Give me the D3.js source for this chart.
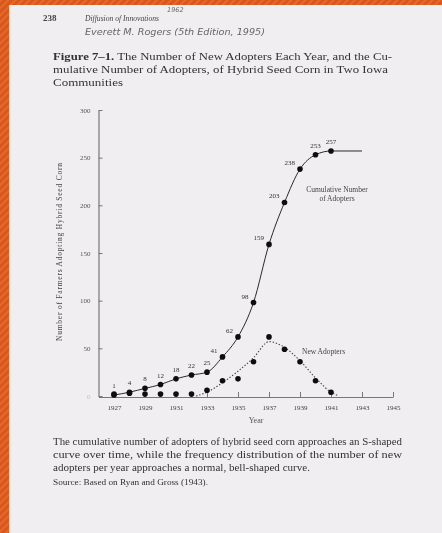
<!DOCTYPE html>
<html>
<head>
<meta charset="utf-8">
<script src="https://cdn.jsdelivr.net/npm/d3@7"></script>
<style>
  body { margin: 0; background: #f0eef0; }
  svg { display: block; }
</style>
</head>
<body>
<script>
// Rogers, fig 7-1 : hybrid seed corn in two Iowa communities

var years = [1927, 1928, 1929, 1930, 1931, 1932, 1933, 1934, 1935, 1936, 1937, 1938, 1939, 1940, 1941];
var cumulative = [1, 4, 8, 12, 18, 22, 25, 41, 62, 98, 159, 203, 238, 253, 257];
var newAdopters = [2, 3, 2, 2, 2, 2, 6, 16, 18, 36, 62, 49, 36, 16, 4];

// the dotted bell curve drawn by hand through the new adopters
var bellYears = [1932.3, 1933, 1934, 1935, 1936, 1937, 1938, 1939, 1940, 1941, 1941.5];
var bellValues = [0, 4, 14, 26, 40, 57, 51, 37, 19, 4, 0];

var plateauEnd = 1943;
var xTicks = [1927, 1929, 1931, 1933, 1935, 1937, 1939, 1941, 1943, 1945];
var yTicks = [0, 50, 100, 150, 200, 250, 300];

var W = 442, H = 533;
var serif = "'Liberation Serif', 'DejaVu Serif', serif";

var svg = d3.select("body").append("svg")
    .attr("width", W)
    .attr("height", H);

var defs = svg.append("defs");

var pat = defs.append("pattern")
    .attr("id", "stripes")
    .attr("patternUnits", "userSpaceOnUse")
    .attr("width", 5)
    .attr("height", 5)
    .attr("patternTransform", "rotate(45)");
pat.append("rect").attr("width", 5).attr("height", 5).attr("fill", "#d9561d");
pat.append("rect").attr("width", 2).attr("height", 5).attr("fill", "#e46a2a");

defs.append("filter")
    .attr("id", "scan")
    .append("feGaussianBlur")
    .attr("stdDeviation", 0.45);

// orange frame, left and top
svg.append("rect").attr("width", W).attr("height", H).attr("fill", "url(#stripes)");
svg.append("rect")
    .attr("x", 9).attr("y", 5)
    .attr("width", W - 9).attr("height", H - 5)
    .attr("fill", "#f0eef0");

var page = svg.append("g").attr("filter", "url(#scan)");

// ---- header ----
page.append("text")
    .attr("x", 43).attr("y", 21)
    .attr("font-family", serif).attr("font-size", 9).attr("font-weight", "bold")
    .attr("fill", "#444")
    .text("238");

page.append("text")
    .attr("x", 85).attr("y", 21)
    .attr("font-family", serif).attr("font-size", 9).attr("font-style", "italic")
    .attr("fill", "#444")
    .attr("textLength", 74).attr("lengthAdjust", "spacingAndGlyphs")
    .text("Diffusion of Innovations");

var hand = "'DejaVu Sans', sans-serif";
page.append("text")
    .attr("x", 167).attr("y", 12)
    .attr("font-family", hand).attr("font-size", 6.5).attr("font-style", "italic")
    .attr("fill", "#666")
    .text("1962");

page.append("text")
    .attr("x", 85).attr("y", 35)
    .attr("font-family", hand).attr("font-size", 8.5).attr("font-style", "italic")
    .attr("fill", "#666")
    .attr("textLength", 180).attr("lengthAdjust", "spacingAndGlyphs")
    .text("Everett M. Rogers  (5th Edition, 1995)");

// ---- figure title ----
var t1 = page.append("text")
    .attr("x", 53).attr("y", 60)
    .attr("font-family", serif).attr("font-size", 10.5)
    .attr("fill", "#333")
    .attr("textLength", 339).attr("lengthAdjust", "spacingAndGlyphs");
t1.append("tspan").attr("font-weight", "bold").text("Figure 7–1.");
t1.append("tspan").text(" The Number of New Adopters Each Year, and the Cu-");

page.append("text")
    .attr("x", 53).attr("y", 73)
    .attr("font-family", serif).attr("font-size", 10.5)
    .attr("fill", "#333")
    .attr("textLength", 335).attr("lengthAdjust", "spacingAndGlyphs")
    .text("mulative Number of Adopters, of Hybrid Seed Corn in Two Iowa");

page.append("text")
    .attr("x", 53).attr("y", 86)
    .attr("font-family", serif).attr("font-size", 10.5)
    .attr("fill", "#333")
    .attr("textLength", 70).attr("lengthAdjust", "spacingAndGlyphs")
    .text("Communities");

// ---- chart ----
var x = d3.scaleLinear().domain([1926, 1945]).range([98.5, 393]);
var y = d3.scaleLinear().domain([0, 300]).range([396, 110]);

var ink = "#2a2a2a";

var yAxis = page.append("g")
    .attr("transform", "translate(98.5,0)")
    .call(d3.axisLeft(y).tickValues(yTicks).tickSize(-4).tickSizeOuter(0).tickPadding(8));
yAxis.selectAll("text")
    .attr("font-family", serif).attr("font-size", 7).attr("fill", "#555")
    .attr("opacity", function(d) { return d === 0 ? 0.3 : 1; });

var xAxis = page.append("g")
    .attr("transform", "translate(0,397)")
    .call(d3.axisBottom(x).tickValues(xTicks).tickFormat(d3.format("d"))
      .tickSize(-5).tickSizeOuter(0).tickPadding(8));
xAxis.selectAll("text")
    .attr("font-family", serif).attr("font-size", 7).attr("fill", "#444");

[yAxis, xAxis].forEach(function(a) {
  a.select(".domain").attr("stroke", "#777").attr("stroke-width", 1.2);
  a.selectAll(".tick line").attr("stroke", "#777");
});

page.append("text")
    .attr("transform", "translate(62,252) rotate(-90)")
    .attr("text-anchor", "middle")
    .attr("font-family", serif).attr("font-size", 7.5).attr("fill", "#444")
    .attr("textLength", 178).attr("lengthAdjust", "spacing")
    .text("Number of Farmers Adopting Hybrid Seed Corn");

page.append("text")
    .attr("x", 256).attr("y", 423)
    .attr("text-anchor", "middle")
    .attr("font-family", serif).attr("font-size", 8).attr("fill", "#555")
    .text("Year");

// cumulative S-curve
var cumPts = years.map(function(yr, i) { return [yr, cumulative[i]]; });
var cumLine = d3.line()
    .x(function(d) { return x(d[0]); })
    .y(function(d) { return y(d[1]); })
    .curve(d3.curveMonotoneX);

page.append("path")
    .datum(cumPts.concat([[plateauEnd, cumulative[cumulative.length - 1]]]))
    .attr("d", cumLine)
    .attr("fill", "none")
    .attr("stroke", ink)
    .attr("stroke-width", 1);

// bell curve for new adopters
var bellPts = bellYears.map(function(yr, i) { return [yr, bellValues[i]]; });
page.append("path")
    .datum(bellPts)
    .attr("d", cumLine)
    .attr("fill", "none")
    .attr("stroke", "#444")
    .attr("stroke-width", 1.1)
    .attr("stroke-dasharray", "1.4,1.8");

page.selectAll("circle.cum")
    .data(cumPts)
  .enter().append("circle")
    .attr("class", "cum")
    .attr("cx", function(d) { return x(d[0]); })
    .attr("cy", function(d) { return y(d[1]); })
    .attr("r", 2.8)
    .attr("fill", "#111");

page.selectAll("circle.new")
    .data(years.map(function(yr, i) { return [yr, newAdopters[i]]; }))
  .enter().append("circle")
    .attr("class", "new")
    .attr("cx", function(d) { return x(d[0]); })
    .attr("cy", function(d) { return y(d[1]); })
    .attr("r", 2.8)
    .attr("fill", "#111");

// value labels: above the point on the flat parts, to the left on the steep part
function steep(yr) { return yr >= 1934 && yr <= 1939; }

page.selectAll("text.val")
    .data(cumPts)
  .enter().append("text")
    .attr("class", "val")
    .attr("x", function(d) { return x(d[0]) + (steep(d[0]) ? -5 : 0); })
    .attr("y", function(d) { return y(d[1]) + (steep(d[0]) ? -4 : -7); })
    .attr("text-anchor", function(d) { return steep(d[0]) ? "end" : "middle"; })
    .attr("font-family", serif).attr("font-size", 7).attr("fill", "#333")
    .text(function(d) { return d[1]; });

var lab = page.append("text")
    .attr("font-family", serif).attr("font-size", 7.5).attr("fill", "#444")
    .attr("text-anchor", "middle");
lab.append("tspan").attr("x", 337).attr("y", 192).text("Cumulative Number");
lab.append("tspan").attr("x", 337).attr("y", 201).text("of Adopters");

page.append("text")
    .attr("x", 302).attr("y", 354)
    .attr("font-family", serif).attr("font-size", 7.5).attr("fill", "#444")
    .text("New Adopters");

// ---- caption below ----
var caption = [
  "The cumulative number of adopters of hybrid seed corn approaches an S-shaped",
  "curve over time, while the frequency distribution of the number of new",
  "adopters per year approaches a normal, bell-shaped curve."
];

caption.forEach(function(line, i) {
  var t = page.append("text")
      .attr("x", 53).attr("y", 445 + i * 13)
      .attr("font-family", serif).attr("font-size", 10)
      .attr("fill", "#333")
      .text(line);
  if (i < caption.length - 1) t.attr("textLength", 349).attr("lengthAdjust", "spacingAndGlyphs");
  else t.attr("textLength", 257).attr("lengthAdjust", "spacingAndGlyphs");
});

page.append("text")
    .attr("x", 53).attr("y", 485)
    .attr("font-family", serif).attr("font-size", 8).attr("fill", "#333")
    .attr("textLength", 155).attr("lengthAdjust", "spacingAndGlyphs")
    .text("Source: Based on Ryan and Gross (1943).");
</script>
</body>
</html>
